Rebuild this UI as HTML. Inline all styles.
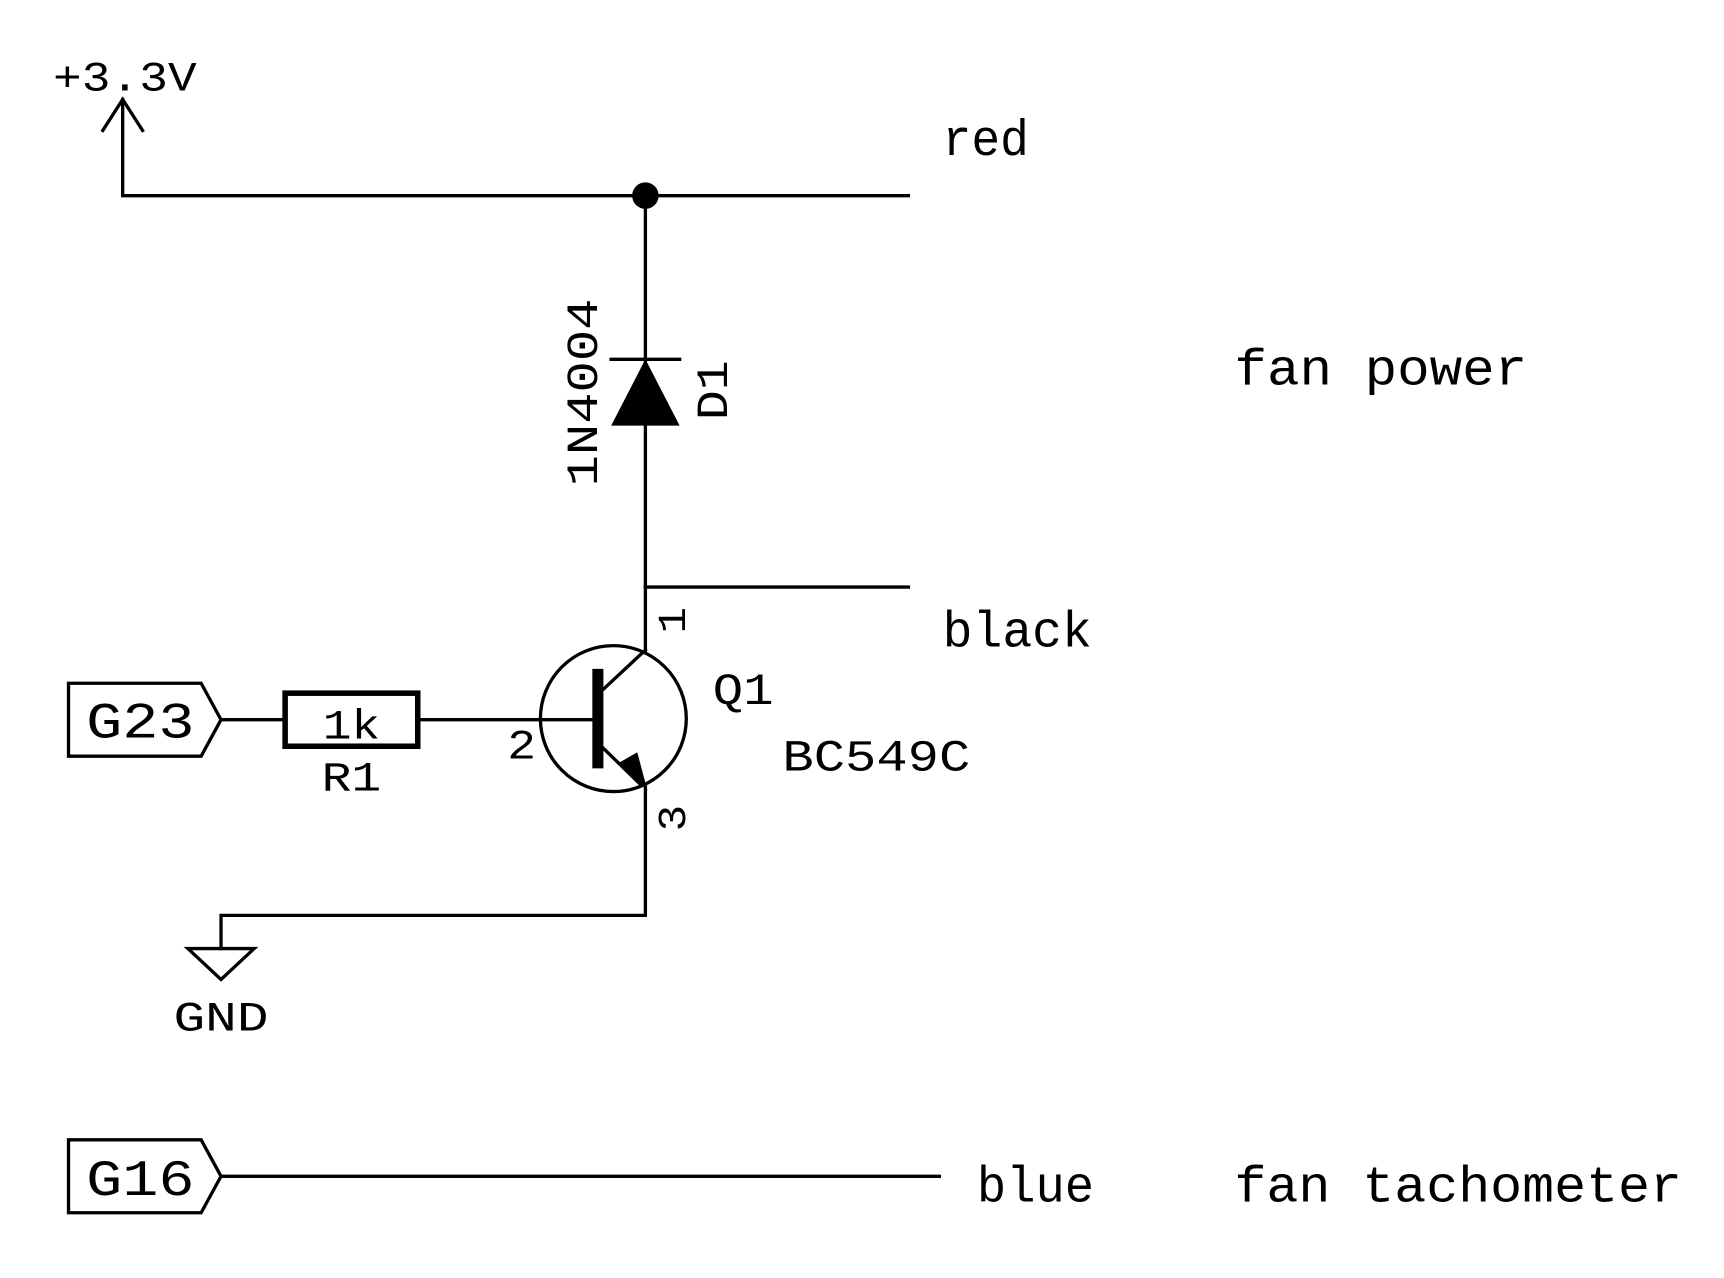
<!DOCTYPE html>
<html><head><style>html,body{margin:0;padding:0;background:#fff}svg{display:block}text{font-family:"Liberation Mono",monospace;fill:#000}</style></head>
<body>
<svg width="1724" height="1278" viewBox="0 0 1560 1156" preserveAspectRatio="none" xmlns="http://www.w3.org/2000/svg">
<g stroke="#000" stroke-width="3" fill="none" stroke-linecap="square">
<polyline points="93,118 111,90 129,118"/>
<polyline points="111,90 111,177 822,177"/>
<line x1="584" y1="177" x2="584" y2="588"/>
<line x1="584" y1="531" x2="822" y2="531"/>
<line x1="553" y1="325" x2="615" y2="325"/>
<circle cx="555" cy="650" r="66"/>
<line x1="541" y1="628" x2="584" y2="588"/>
<line x1="541" y1="672" x2="580" y2="710"/>
<polyline points="584,712 584,828 200,828 200,858"/>
<polygon points="170,858 230,858 200,886"/>
<line x1="378" y1="651" x2="541" y2="651"/>
<line x1="200" y1="651" x2="258" y2="651"/>
<polygon points="62,618 182,618 200,651 182,684 62,684"/>
<polygon points="62,1031 182,1031 200,1064 182,1097 62,1097"/>
<line x1="200" y1="1064" x2="850" y2="1064"/>
</g>
<rect x="258" y="627" width="120" height="48" fill="none" stroke="#000" stroke-width="5"/>
<line x1="541" y1="605" x2="541" y2="695" stroke="#000" stroke-width="10"/>
<polygon points="553,385 615,385 584,325" fill="#000"/>
<circle cx="584" cy="177" r="12" fill="#000"/>
<polygon points="584,712 562,690 576,682" fill="#000" stroke="#000" stroke-width="2"/>
<text x="48" y="82" font-size="38" textLength="130" lengthAdjust="spacingAndGlyphs">+3.3V</text>
<text x="853" y="140" font-size="46" textLength="78" lengthAdjust="spacingAndGlyphs">red</text>
<text x="853" y="585" font-size="46" textLength="135" lengthAdjust="spacingAndGlyphs">black</text>
<text x="884" y="1087" font-size="46" textLength="106" lengthAdjust="spacingAndGlyphs">blue</text>
<text x="1117" y="348" font-size="46" textLength="265" lengthAdjust="spacingAndGlyphs">fan power</text>
<text x="1117" y="1087" font-size="46" textLength="405" lengthAdjust="spacingAndGlyphs">fan tachometer</text>
<text x="645" y="637" font-size="40" textLength="55" lengthAdjust="spacingAndGlyphs">Q1</text>
<text x="708" y="697" font-size="40" textLength="170" lengthAdjust="spacingAndGlyphs">BC549C</text>
<text x="78" y="667" font-size="46" textLength="98" lengthAdjust="spacingAndGlyphs">G23</text>
<text x="78" y="1081" font-size="46" textLength="98" lengthAdjust="spacingAndGlyphs">G16</text>
<text x="292" y="668" font-size="38" textLength="52" lengthAdjust="spacingAndGlyphs">1k</text>
<text x="291" y="715" font-size="38" textLength="54" lengthAdjust="spacingAndGlyphs">R1</text>
<text x="459" y="686" font-size="38" textLength="26" lengthAdjust="spacingAndGlyphs">2</text>
<text x="157" y="932" font-size="38" textLength="86" lengthAdjust="spacingAndGlyphs">GND</text>
<text transform="translate(540,440) rotate(-90)" font-size="40" textLength="170" lengthAdjust="spacingAndGlyphs">1N4004</text>
<text transform="translate(658,380) rotate(-90)" font-size="40" textLength="54" lengthAdjust="spacingAndGlyphs">D1</text>
<text transform="translate(620,573) rotate(-90)" font-size="36" textLength="24" lengthAdjust="spacingAndGlyphs">1</text>
<text transform="translate(620,752) rotate(-90)" font-size="36" textLength="24" lengthAdjust="spacingAndGlyphs">3</text>
</svg>
</body></html>
